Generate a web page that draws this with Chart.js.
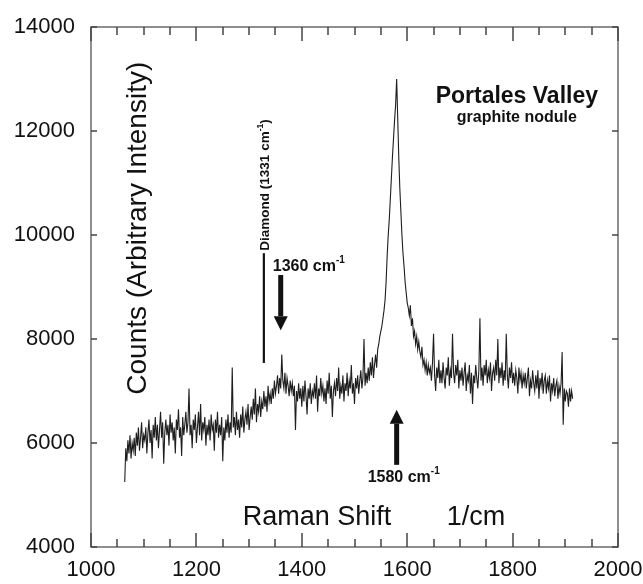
<!DOCTYPE html>
<html>
<head>
<meta charset="utf-8">
<script src="https://cdn.jsdelivr.net/npm/chart.js@4.4.1/dist/chart.umd.min.js"></script>
<style>
  html, body { margin: 0; padding: 0; background: #ffffff; }
  canvas { display: block; }
</style>
</head>
<body>
<canvas id="c" width="643" height="584"></canvas>
<script>
// ---------------- data ----------------
const ramanStart = 1064;   // first Raman shift sample (1/cm)
const ramanStep = 2;       // sampling interval (1/cm)
const counts = [
  5250, 5900, 5650, 6050, 5800, 6150, 5700, 6000, 5850, 6100,
  5750, 6200, 5950, 6300, 5850, 6100, 6400, 5900, 6150, 6050,
  6300, 5800, 6200, 6450, 6000, 6250, 5700, 6350, 6100, 6500,
  6050, 6350, 5900, 6250, 6600, 6100, 6400, 5600, 6200, 6450,
  6150, 6350, 5950, 6550, 6200, 6400, 6050, 6300, 5800, 6450,
  6250, 6650, 6100, 6300, 5750, 6500, 6150, 6350, 6600, 6200,
  6400, 7050, 6150, 6350, 5900, 6450, 6250, 6550, 6000, 6300,
  6600, 6150, 6750, 6050, 6400, 6250, 6500, 5950, 6350, 6150,
  6450, 6050, 6550, 6250, 6350, 5850, 6450, 6200, 6600, 6100,
  6350, 6150, 6500, 5650, 6300, 6050, 6450, 6200, 6550, 6100,
  6400, 6200, 7450, 6300, 6500, 6150, 6600, 6250, 6450, 6100,
  6550, 6300, 6700, 6200, 6450, 6600, 6350, 6750, 6250, 6500,
  6700, 6450, 6850, 6550, 7050, 6400, 6750, 6600, 6900, 6500,
  6800, 6650, 7000, 6700, 6900, 6600, 7100, 6800, 6950, 6750,
  7050, 6850, 7200, 6950, 7100, 7300, 6950, 7250, 7050, 7700,
  7200, 7050, 7350, 6950, 7250, 7100, 6900, 7200, 7000, 7150,
  6900, 7100, 6250, 7000, 6800, 7150, 6850, 7050, 6700, 7100,
  6800, 7200, 6900, 6550, 7050, 6850, 7150, 6750, 7000, 6900,
  7150, 6850, 7300, 6600, 7050, 6900, 7250, 6950, 7100, 6800,
  7050, 6750, 7200, 6950, 7350, 6850, 7100, 6500, 7000, 7150,
  6900, 7250, 7000, 7450, 6850, 7100, 6950, 7300, 6800, 7150,
  7000, 7350, 6900, 7200, 7050, 7500, 6950, 7150, 6750, 7250,
  7050, 7300, 6950, 7200, 7400, 7050, 7250, 8000, 7100, 7350,
  7150, 7450, 7200, 7550, 7300, 7650, 7250, 7500, 7700, 7450,
  7800, 7900, 8050, 8150, 8250, 8400, 8550, 8750, 9100, 9600,
  10000, 10300, 10700, 11100, 11500, 11850, 12200, 12500, 13000, 12250,
  11500, 10900, 10450, 10000, 9650, 9400, 9100, 8900, 8700, 8600,
  8450, 8650, 8250, 8400, 8050, 8150, 7900, 8050, 7800, 7950,
  7750, 7650, 7850, 7500, 7600, 7400, 7550, 7300, 7500, 7350,
  7450, 7200, 7550, 8100, 7300, 7000, 7450, 7250, 7600, 7150,
  7400, 7150, 7550, 7250, 7050, 7450, 7300, 7650, 7100, 7400,
  7250, 8100, 7350, 7150, 7500, 7300, 7600, 7050, 7400, 7200,
  7450, 7100, 7350, 7550, 7000, 7300, 7200, 7500, 6950, 7350,
  6750, 7300, 7150, 7500, 7250, 7050, 7400, 8400, 7200, 7450,
  7100, 7500, 7300, 7600, 7150, 7400, 7250, 7550, 7000, 7350,
  7450, 7200, 7600, 7300, 8000, 7150, 7450, 7250, 7550, 7100,
  7400, 7200, 8100, 7300, 7050, 7450, 7250, 7550, 7150, 7350,
  7100, 7400, 7250, 6950, 7450, 7200, 7350, 7050, 7300, 7150,
  7350, 7050, 7250, 7450, 6900, 7200, 7050, 7400, 7150, 7000,
  7300, 7050, 7400, 6850, 7250, 7100, 7350, 6950, 7200, 7300,
  6950, 7200, 7050, 7300, 6800, 7150, 7000, 7250, 6900, 7100,
  7200, 6850, 7100, 6950, 7150, 7750, 6350, 7050, 6800, 7000,
  6950, 6700, 7050, 6800, 7000, 6850
];
const xTickValues = [1000, 1200, 1400, 1600, 1800, 2000];
const xMinorTickValues = [1050, 1100, 1150, 1250, 1300, 1350, 1450, 1500, 1550,
                          1650, 1700, 1750, 1850, 1900, 1950];
const yTickValues = [4000, 6000, 8000, 10000, 12000, 14000];
const xMin = 1000, xMax = 2000, yMin = 4000, yMax = 14000;

// ---------------- annotation layout (data coordinates) ----------------
const notes = {
  diamondLine: { x: 1328, y1: 7540, y2: 9650 },
  downArrow: { x: 1360, yTop: 9230, yTip: 8170 },
  upArrow: { x: 1580, yTip: 6640, yBottom: 5580 },
  diamondText: { x: 1331, y: 10962 },
  label1360: { x: 1345, y: 9400 },
  label1580: { x: 1525, y: 5330 },
  title1: { x: 1808, y: 12654 },
  title2: { x: 1808, y: 12250 },
  yTitle: { x: 1089, y: 10130 },
  xTitleLeft: { x: 1288, y: 4560 },
  xTitleRight: { x: 1786, y: 4560 }
};

const points = counts.map((c, i) => ({ x: ramanStart + i * ramanStep, y: c }));

const FONT = "'Liberation Sans', Arial, Helvetica, sans-serif";

function drawSup(ctx, base, sup, x, y, size) {
  ctx.textAlign = 'left';
  ctx.textBaseline = 'middle';
  ctx.font = 'bold ' + size + 'px ' + FONT;
  const wb = ctx.measureText(base).width;
  ctx.fillText(base, x, y);
  ctx.font = 'bold ' + Math.round(size * 0.6) + 'px ' + FONT;
  ctx.fillText(sup, x + wb, y - size * 0.4);
}

const framePlugin = {
  id: 'frame',
  afterDraw(chart) {
    const ctx = chart.ctx;
    const area = chart.chartArea;
    const left = area.left, top = area.top, right = area.right, bottom = area.bottom;
    const sx = chart.scales.x, sy = chart.scales.y;
    ctx.save();
    // box
    ctx.strokeStyle = '#6a6a6a';
    ctx.lineWidth = 1.5;
    ctx.strokeRect(left, top, right - left, bottom - top);

    // inward tick marks
    function vTick(px, y0, y1) {
      ctx.beginPath(); ctx.moveTo(px, y0); ctx.lineTo(px, y1); ctx.stroke();
    }
    ctx.strokeStyle = '#444444';
    ctx.lineWidth = 1.5;
    xTickValues.forEach(v => {
      const px = Math.round(sx.getPixelForValue(v));
      vTick(px, bottom, bottom - 14);
      vTick(px, top, top + 14);
    });
    xMinorTickValues.forEach(v => {
      const px = Math.round(sx.getPixelForValue(v));
      vTick(px, bottom, bottom - 8);
      vTick(px, top, top + 8);
    });
    yTickValues.forEach(v => {
      const py = Math.round(sy.getPixelForValue(v));
      ctx.beginPath(); ctx.moveTo(left, py); ctx.lineTo(left + 6, py); ctx.stroke();
      ctx.beginPath(); ctx.moveTo(right, py); ctx.lineTo(right - 6, py); ctx.stroke();
    });

    ctx.fillStyle = '#111';
    ctx.strokeStyle = '#111';
    // axis titles inside plot
    ctx.save();
    ctx.translate(sx.getPixelForValue(notes.yTitle.x), sy.getPixelForValue(notes.yTitle.y));
    ctx.rotate(-Math.PI / 2);
    ctx.font = '28px ' + FONT;
    ctx.textAlign = 'center';
    ctx.textBaseline = 'middle';
    ctx.fillText('Counts (Arbitrary Intensity)', 0, 0);
    ctx.restore();

    ctx.font = '27px ' + FONT;
    ctx.textBaseline = 'middle';
    ctx.textAlign = 'left';
    ctx.fillText('Raman Shift', sx.getPixelForValue(notes.xTitleLeft.x), sy.getPixelForValue(notes.xTitleLeft.y));
    ctx.textAlign = 'right';
    ctx.fillText('1/cm', sx.getPixelForValue(notes.xTitleRight.x), sy.getPixelForValue(notes.xTitleRight.y));

    // sample title
    ctx.textAlign = 'center';
    ctx.font = 'bold 23px ' + FONT;
    ctx.fillText('Portales Valley', sx.getPixelForValue(notes.title1.x), sy.getPixelForValue(notes.title1.y));
    ctx.font = 'bold 16px ' + FONT;
    ctx.fillText('graphite nodule', sx.getPixelForValue(notes.title2.x), sy.getPixelForValue(notes.title2.y));

    // diamond line
    ctx.lineWidth = 2.2;
    ctx.beginPath();
    const dlx = sx.getPixelForValue(notes.diamondLine.x);
    ctx.moveTo(dlx, sy.getPixelForValue(notes.diamondLine.y1));
    ctx.lineTo(dlx, sy.getPixelForValue(notes.diamondLine.y2));
    ctx.stroke();

    // diamond rotated label
    ctx.save();
    ctx.translate(sx.getPixelForValue(notes.diamondText.x), sy.getPixelForValue(notes.diamondText.y));
    ctx.rotate(-Math.PI / 2);
    const fMain = 'bold 13.5px ' + FONT, fSup = 'bold 8.5px ' + FONT;
    ctx.font = fMain;
    const w1 = ctx.measureText('Diamond (1331 cm').width;
    const w3 = ctx.measureText(')').width;
    ctx.font = fSup;
    const w2 = ctx.measureText('-1').width;
    const x0 = -(w1 + w2 + w3) / 2;
    ctx.textAlign = 'left';
    ctx.textBaseline = 'middle';
    ctx.font = fMain;
    ctx.fillText('Diamond (1331 cm', x0, 0);
    ctx.font = fSup;
    ctx.fillText('-1', x0 + w1, -5);
    ctx.font = fMain;
    ctx.fillText(')', x0 + w1 + w2, 0);
    ctx.restore();

    // arrows
    function arrow(xv, yFromV, yTipV) {
      const ax = sx.getPixelForValue(xv);
      const yf = sy.getPixelForValue(yFromV);
      const yt = sy.getPixelForValue(yTipV);
      const dir = yt > yf ? 1 : -1;
      const head = 14, half = 7, shaft = 5;
      const yb = yt - dir * head;
      ctx.fillRect(ax - shaft / 2, Math.min(yf, yb), shaft, Math.abs(yb - yf));
      ctx.beginPath();
      ctx.moveTo(ax - half, yb);
      ctx.lineTo(ax + half, yb);
      ctx.lineTo(ax, yt);
      ctx.closePath();
      ctx.fill();
    }
    arrow(notes.downArrow.x, notes.downArrow.yTop, notes.downArrow.yTip);
    arrow(notes.upArrow.x, notes.upArrow.yBottom, notes.upArrow.yTip);

    drawSup(ctx, '1360 cm', '-1', sx.getPixelForValue(notes.label1360.x), sy.getPixelForValue(notes.label1360.y), 16);
    drawSup(ctx, '1580 cm', '-1', sx.getPixelForValue(notes.label1580.x), sy.getPixelForValue(notes.label1580.y), 16);
    ctx.restore();
  }
};

new Chart(document.getElementById('c').getContext('2d'), {
  type: 'line',
  data: {
    datasets: [{
      data: points,
      borderColor: '#1e1e1e',
      borderWidth: 1.1,
      pointRadius: 0,
      tension: 0,
      fill: false
    }]
  },
  options: {
    responsive: false,
    animation: false,
    devicePixelRatio: 1,
    layout: { padding: { left: 0, top: 27, right: 25, bottom: 0 } },
    plugins: { legend: { display: false }, tooltip: { enabled: false } },
    scales: {
      x: {
        type: 'linear',
        min: xMin, max: xMax,
        afterBuildTicks: s => { s.ticks = xTickValues.map(v => ({ value: v })); },
        ticks: { font: { family: FONT, size: 22 }, color: '#111', padding: 10, maxRotation: 0, autoSkip: false,
                 callback: v => String(v) },
        grid: { display: false, drawTicks: false },
        border: { display: false },
        afterFit: s => { s.height = 37; s.paddingLeft = 0; s.paddingRight = 0; }
      },
      y: {
        type: 'linear',
        min: yMin, max: yMax,
        afterBuildTicks: s => { s.ticks = yTickValues.map(v => ({ value: v })); },
        ticks: { font: { family: FONT, size: 22 }, color: '#111', padding: 16,
                 callback: v => String(v) },
        grid: { display: false, drawTicks: false },
        border: { display: false },
        afterFit: s => { s.width = 91; s.paddingTop = 0; s.paddingBottom = 0; }
      }
    }
  },
  plugins: [framePlugin]
});
</script>
</body>
</html>
